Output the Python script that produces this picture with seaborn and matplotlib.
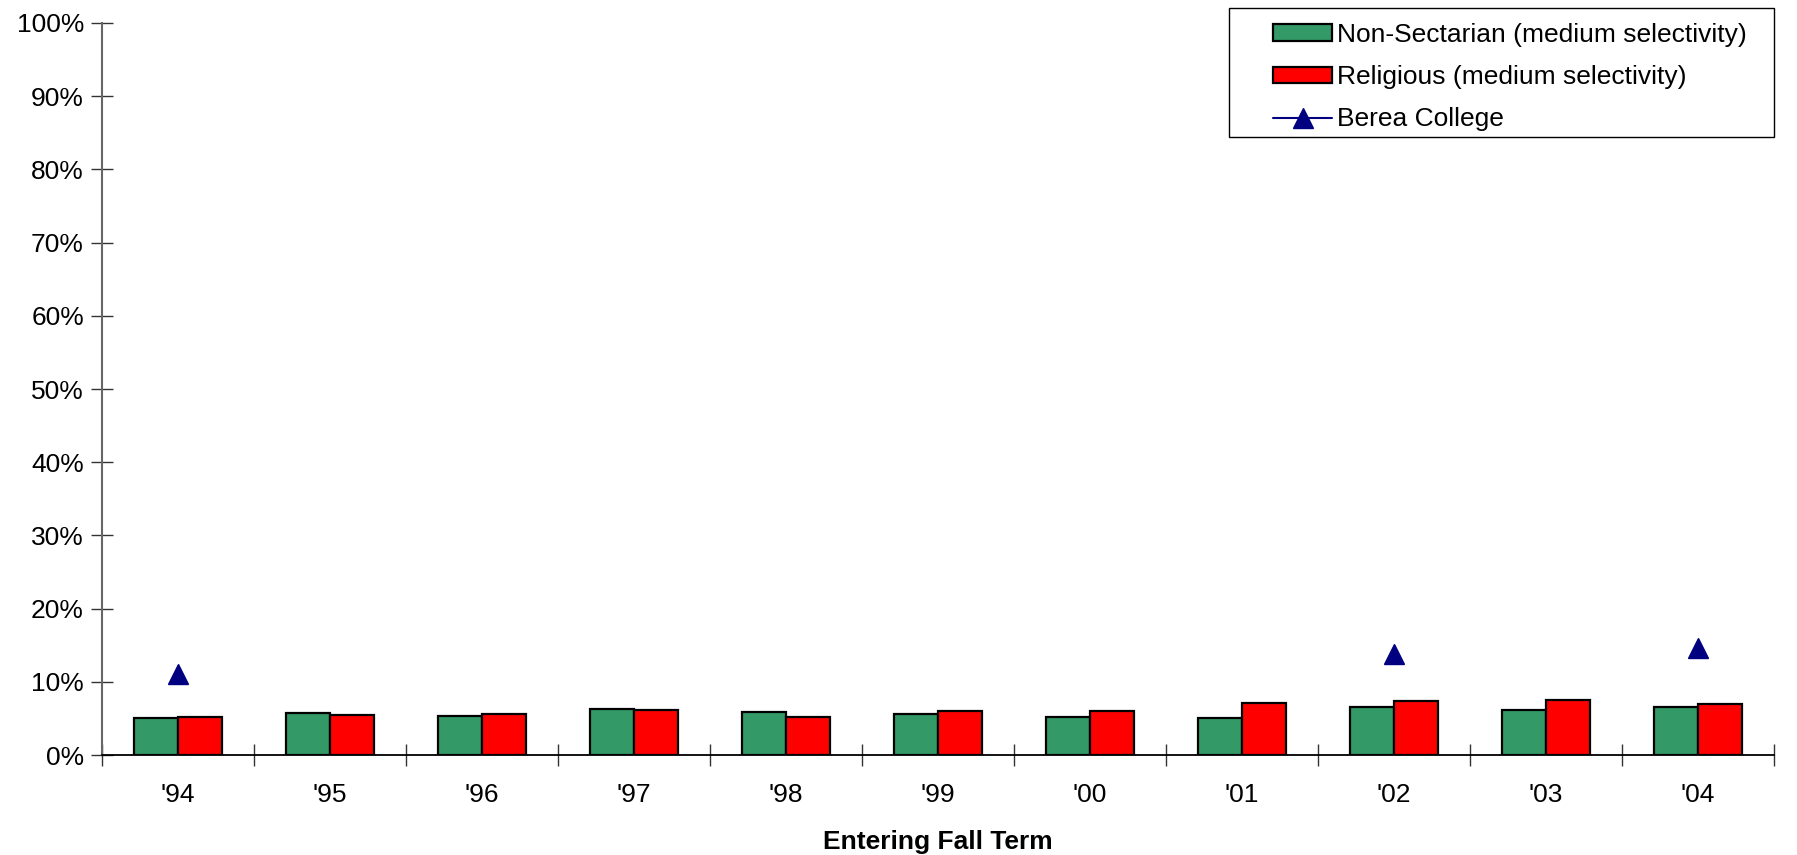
import matplotlib
matplotlib.use('Agg')
import matplotlib.pyplot as plt
import seaborn as sns
import numpy as np
import pandas as pd
from matplotlib.patches import Rectangle
from matplotlib.ticker import FixedLocator, PercentFormatter

# values (percent)
years = ["'94", "'95", "'96", "'97", "'98", "'99", "'00", "'01", "'02", "'03", "'04"]
non_sectarian = [5.0, 5.7, 5.35, 6.35, 5.85, 5.65, 5.25, 5.1, 6.55, 6.2, 6.6]
religious = [5.25, 5.5, 5.55, 6.15, 5.2, 6.0, 6.0, 7.05, 7.35, 7.45, 6.95]
berea = [11.0, np.nan, np.nan, np.nan, np.nan, np.nan, np.nan, np.nan, 13.8, np.nan, 14.6]

series_names = ['Non-Sectarian (medium selectivity)', 'Religious (medium selectivity)']
colors = ['#339966', '#FF0000']

sns.set_style('white')
plt.rcParams['font.family'] = ['Liberation Sans', 'DejaVu Sans']
plt.rcParams['text.color'] = 'black'
plt.rcParams['xtick.color'] = 'black'
plt.rcParams['ytick.color'] = 'black'

df = pd.DataFrame({
    'year': years * 2,
    'value': non_sectarian + religious,
    'group': [series_names[0]] * len(years) + [series_names[1]] * len(years),
})

W, H = 1797, 855
fig = plt.figure(figsize=(W / 100, H / 100), dpi=100)
ax = fig.add_axes([102 / W, 1 - 755 / H, (1774 - 102) / W, (755 - 23) / H])

sns.barplot(data=df, x='year', y='value', hue='group', order=years,
            hue_order=series_names, palette=colors, width=0.58, gap=0,
            edgecolor='black', linewidth=1.6, saturation=1, ax=ax)

ax.plot(range(len(years)), berea, color='#000080', marker='^', markersize=15,
        linewidth=1.5, label='Berea College')

ax.set_ylim(0, 100)
ax.set_xlim(-0.5, len(years) - 0.5)
ax.yaxis.set_major_locator(FixedLocator(np.arange(0, 101, 10)))
ax.yaxis.set_major_formatter(PercentFormatter(decimals=0))

# excel-style category axis: ticks on boundaries, labels centred
ax.set_xticks(np.arange(-0.5, len(years), 1.0))
ax.set_xticklabels([])
ax.set_xticks(range(len(years)), minor=True)
ax.set_xticklabels(years, minor=True)
ax.tick_params(axis='x', which='major', bottom=True, direction='inout', length=16, width=1,
               color='#333333')
ax.tick_params(axis='x', which='minor', bottom=True, length=0, pad=20, labelsize=19,
               labelcolor='black')
ax.tick_params(axis='y', left=True, direction='inout', length=16, width=1, color='#333333',
               labelsize=19, labelcolor='black', pad=5)

for side in ['top', 'right']:
    ax.spines[side].set_visible(False)
ax.spines['left'].set_color('#666666')
ax.spines['left'].set_linewidth(1.5)
ax.spines['bottom'].set_color('black')
ax.spines['bottom'].set_linewidth(1.3)

ax.set_ylabel('')
ax.set_xlabel('Entering Fall Term', fontsize=19, fontweight='bold', labelpad=17, color='black')

# legend without its own frame, box drawn separately (padding is uneven in the original)
handles, labels = ax.get_legend_handles_labels()
leg = ax.legend(handles, labels, loc='upper left', bbox_to_anchor=(1273 / W, 1 - 23 / H),
                bbox_transform=fig.transFigure, fontsize=19, frameon=False,
                handlelength=2.24, handleheight=0.6, handletextpad=0.19,
                borderpad=0, labelspacing=0.69, borderaxespad=0)
fig.patches.append(Rectangle((1229 / W, 1 - 137 / H), (1774 - 1229) / W, (137 - 8) / H,
                             transform=fig.transFigure, fill=False, edgecolor='black',
                             linewidth=1.0))

fig.savefig('out.png', dpi=100)
plt.close(fig)
